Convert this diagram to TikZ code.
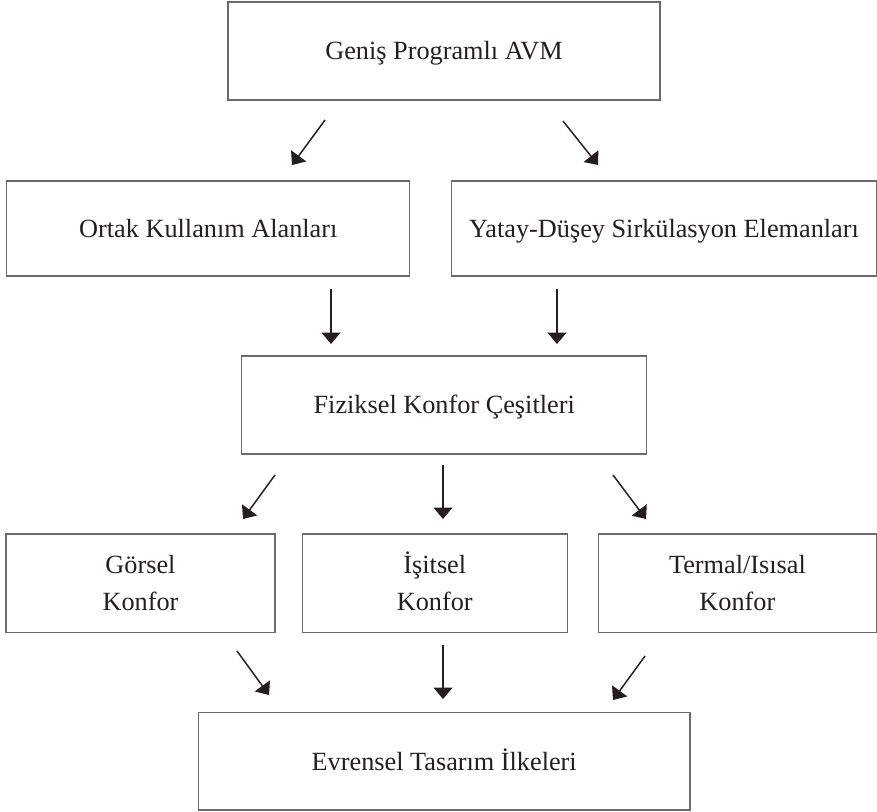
\documentclass[tikz,border=0pt]{standalone}
\usepackage{fontspec}
\setmainfont{Liberation Serif}
\usetikzlibrary{arrows.meta}
\definecolor{ink}{HTML}{231F20}
\definecolor{frame}{HTML}{6A6A6A}
\begin{document}
\begin{tikzpicture}[x=0.75pt,y=-0.75pt,
  box/.style={draw=frame,line width=0.9pt,rectangle,inner sep=0pt,align=center,text=ink,
    font=\fontsize{19.7pt}{27.75pt}\selectfont},
  one/.style={box,text height=13.3pt,text depth=0pt},
  arr/.style={draw=ink,line width=1.1pt,-{Triangle[width=14pt,length=8.5pt]}}]
\useasboundingbox (0,0) rectangle (877,811);
% boxes
\node[one,minimum width=324pt,minimum height=73.5pt] (A) at (444,51) {Geniş Programlı AVM};
\node[one,minimum width=302.25pt,minimum height=71.25pt] (B) at (208.3,228.5) {Ortak Kullanım Alanları};
\node[one,minimum width=318.75pt,minimum height=71.25pt] (C) at (664,228.5) {Yatay-Düşey Sirkülasyon Elemanları};
\node[one,minimum width=303.75pt,minimum height=73.5pt] (D) at (444.2,405) {Fiziksel Konfor Çeşitleri};
\node[box,minimum width=201.75pt,minimum height=74pt] (E) at (140.5,583.3) {Görsel\\Konfor};
\node[box,minimum width=198.75pt,minimum height=74pt] (F) at (434.8,583.3) {\smash{İ}şitsel\\Konfor};
\node[box,minimum width=208.5pt,minimum height=74pt] (G) at (737.4,583.3) {Termal/Isısal\\Konfor};
\node[one,minimum width=368.8pt,minimum height=73pt] (H) at (444.2,761.3) {Evrensel Tasarım İlkeleri};
% arrow end points
\coordinate (a1s) at (325,120); \coordinate (a1e) at (292,165);
\coordinate (a2s) at (563,121); \coordinate (a2e) at (598,165);
\coordinate (a3s) at (331,289); \coordinate (a3e) at (331,344);
\coordinate (a4s) at (557,289); \coordinate (a4e) at (557,344);
\coordinate (a5s) at (275,475); \coordinate (a5e) at (243,519);
\coordinate (a6s) at (443,465); \coordinate (a6e) at (443,519);
\coordinate (a7s) at (613,475); \coordinate (a7e) at (646,519);
\coordinate (a8s) at (237,651); \coordinate (a8e) at (269,695);
\coordinate (a9s) at (443,645); \coordinate (a9e) at (443,699);
\coordinate (a10s) at (645,656); \coordinate (a10e) at (613,700);
% arrows
\draw[arr] (a1s) -- (a1e);
\draw[arr] (a2s) -- (a2e);
\draw[arr] (a3s) -- (a3e);
\draw[arr] (a4s) -- (a4e);
\draw[arr] (a5s) -- (a5e);
\draw[arr] (a6s) -- (a6e);
\draw[arr] (a7s) -- (a7e);
\draw[arr] (a8s) -- (a8e);
\draw[arr] (a9s) -- (a9e);
\draw[arr] (a10s) -- (a10e);
\end{tikzpicture}
\end{document}
